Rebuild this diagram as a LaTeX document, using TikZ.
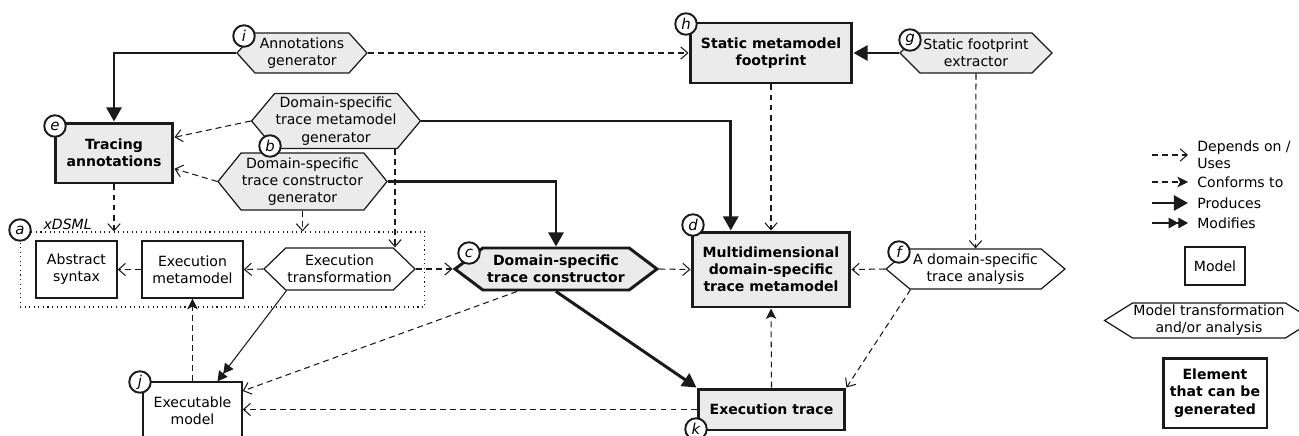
\documentclass[tikz,border=0pt]{standalone}
\usepackage{fontspec}
\setmainfont{DejaVu Sans}
\usetikzlibrary{arrows.meta,shapes.symbols,calc,positioning}

\definecolor{ink}{HTML}{1A1A1A}
\definecolor{genfill}{HTML}{EBEBEB}

\begin{document}
\begin{tikzpicture}[x=0.02cm, y=-0.02cm,
    font=\fontsize{8}{9.8}\selectfont,
    model/.style={draw=ink, line width=0.8pt, fill=white, align=center, inner sep=1pt},
    gen model/.style={model, line width=1.7pt, fill=genfill, font=\fontsize{8}{9.8}\selectfont\bfseries},
    trafo/.style={signal, signal to=west and east, draw=ink, line width=0.7pt, fill=white, align=center, inner sep=0.5pt},
    gen trafo/.style={trafo, fill=genfill},
    tag/.style={circle, draw=ink, line width=1.1pt, fill=white, minimum size=0.43cm, inner sep=0pt, font=\fontsize{8.5}{8.5}\selectfont\itshape},
    uses/.style={draw=ink, line width=0.6pt, dash pattern=on 3.4pt off 2.3pt, -{Straight Barb[length=4pt,width=7pt]}},
    conforms/.style={draw=ink, line width=0.6pt, dash pattern=on 3.4pt off 2.3pt, -{Stealth[length=6pt,width=6pt,inset=1.5pt]}},
    produces/.style={draw=ink, line width=1.7pt, -{Triangle[length=8pt,width=8.5pt]}},
    modifies/.style={draw=ink, line width=0.6pt, -{Triangle[length=5.5pt,width=6pt]Triangle[length=5.5pt,width=6pt]}}]

  \useasboundingbox (0,0) rectangle (1299,436);

  % the xDSML frame
  \node[draw=ink, dotted, line width=0.6pt, minimum width=8.1cm, minimum height=1.5cm] (xdsml) at (222.5,269.5) {};
  \node[anchor=south west, inner sep=1pt, font=\fontsize{8}{9.8}\selectfont\itshape] (xdsmllabel) at ($(xdsml.north west)+(22,0)$) {xDSML};

  % models and transformations
  \node[gen trafo, minimum width=2.6cm, minimum height=0.8cm, signal pointer angle=96] (ann) at (302,53) {Annotations\\generator};
  \node[gen model, minimum width=3.24cm, minimum height=1.2cm] (smf) at (771,53) {Static metamodel\\footprint};
  \node[gen trafo, minimum width=3.04cm, minimum height=0.8cm, signal pointer angle=90] (sfe) at (976,53) {Static footprint\\extractor};
  \node[gen model, minimum width=2.36cm, minimum height=1.2cm] (tra) at (114,153) {Tracing\\annotations};
  \node[gen trafo, minimum width=3.22cm, minimum height=1.1cm, signal pointer angle=100] (tmg) at (336,121) {Domain-specific\\trace metamodel\\generator};
  \node[gen trafo, minimum width=3.22cm, minimum height=1.14cm, signal pointer angle=102] (tcg) at (302.5,181.5) {Domain-specific\\trace constructor\\generator};
  \node[gen trafo, line width=1.7pt, minimum width=4.04cm, minimum height=0.84cm, signal pointer angle=74, font=\fontsize{8}{9.8}\selectfont\bfseries] (dtc) at (556,269) {Domain-specific\\trace constructor};
  \node[gen model, minimum width=3.16cm, minimum height=1.5cm] (mdt) at (771,269.5) {Multidimensional\\domain-specific\\trace metamodel};
  \node[trafo, minimum width=3.58cm, minimum height=0.8cm, signal pointer angle=80] (dta) at (975.5,269) {A domain-specific\\trace analysis};
  \node[gen model, minimum width=2.94cm, minimum height=0.82cm] (et) at (771.5,409.5) {Execution trace};
  \node[model, minimum width=1.98cm, minimum height=1.16cm] (em) at (192.5,411) {Executable\\model};
  \node[model, minimum width=1.62cm, minimum height=1.14cm] (as) at (76.5,269.5) {Abstract\\syntax};
  \node[model, minimum width=2.02cm, minimum height=1.14cm] (emm) at (192.5,269.5) {Execution\\metamodel};
  \node[trafo, minimum width=3.02cm, minimum height=0.84cm, signal pointer angle=88] (etr) at (339.5,269) {Execution\\transformation};

  % connectors
  \path
    (ann.east) edge [uses] (smf.west)
    (smf.south) edge [uses] (mdt.north)
    (sfe.south) edge [uses] (dta.north)
    (dtc.east) edge [uses] (mdt.west)
    (dta.west) edge [uses] (mdt.east)
    (etr.east) edge [uses] (dtc.west)
    (etr.west) edge [uses] (emm.east)
    (emm.west) edge [uses] (as.east)
    (sfe.west) edge [produces] (smf.east)
    (dtc.south) edge [produces] (et.north west)
    (et.north) edge [conforms] (mdt.south)
    (em.north) edge [conforms] (emm.south);

  \draw[uses] (tmg.west) -- ($(tra.north east)!0.25!(tra.south east)$);
  \draw[uses] (tcg.west) -- ($(tra.north east)!0.75!(tra.south east)$);
  \draw[uses] (tra.south) -- (tra.south |- xdsml.north);
  \draw[uses] (tcg.south) -- (tcg.south |- xdsml.north);
  \draw[uses] ($(tmg.south)+(59,0)$) coordinate (tmgcorner) -- (tmgcorner |- etr.north);
  \draw[uses] ($(dta.south)+(-65,0)$) -- (et.north east);
  \draw[uses] ($(dtc.south)+(-39,0)$) -- ($(em.east)+(0,-20)$);
  \draw[uses] (et.west) -- (et.west -| em.east);
  \draw[modifies] ($(etr.south)+(-53,0)$) -- ($(em.north)+(25,0)$);
  \draw[produces] (ann.west) -| (tra.north);
  \draw[produces] (tmg.east) -| ($(mdt.north west)!0.25!(mdt.north east)$);
  \draw[produces] (tcg.east) -| (dtc.north);

  % tags
  \node[tag] (tagi) at (244,36) {i};
  \node[tag] (tagh) at (686,24) {h};
  \node[tag] (tagg) at (910,40) {g};
  \node[tag] (tage) at (55,126) {e};
  \node[tag] (tagb) at (270,146) {b};
  \node[tag] (taga) at (20,230) {a};
  \node[tag] (tagc) at (469,253) {c};
  \node[tag] (tagd) at (693,225) {d};
  \node[tag] (tagf) at (899,252) {f};
  \node[tag] (tagj) at (140,382) {j};
  \node[tag] (tagk) at (696,429) {k};

  % legend
  \coordinate (lgua) at (1152,155);
  \coordinate (lgub) at (1188,155);
  \coordinate (lgca) at (1152,182);
  \coordinate (lgcb) at (1188,182);
  \coordinate (lgpa) at (1152,203);
  \coordinate (lgpb) at (1188,203);
  \coordinate (lgma) at (1152,223);
  \coordinate (lgmb) at (1188,223);
  \draw[uses] (lgua) -- (lgub);
  \draw[conforms] (lgca) -- (lgcb);
  \draw[produces] (lgpa) -- (lgpb);
  \draw[modifies] (lgma) -- (lgmb);
  \node[anchor=west, align=left, inner sep=0pt] (lgut) at (1197,155) {Depends on /\\Uses};
  \node[anchor=west, inner sep=0pt] (lgct) at (1197,182) {Conforms to};
  \node[anchor=west, inner sep=0pt] (lgpt) at (1197,203) {Produces};
  \node[anchor=west, inner sep=0pt] (lgmt) at (1197,223) {Modifies};
  \node[model, minimum width=1.2cm, minimum height=0.76cm] (lgm) at (1215,266) {Model};
  \node[trafo, minimum width=3.56cm, minimum height=0.7cm, signal pointer angle=64] (lgt) at (1209,320.5) {Model transformation\\and/or analysis};
  \node[gen model, fill=white, minimum width=2.08cm, minimum height=1.4cm] (lge) at (1215,393) {Element\\that can be\\generated};
\end{tikzpicture}
\end{document}
